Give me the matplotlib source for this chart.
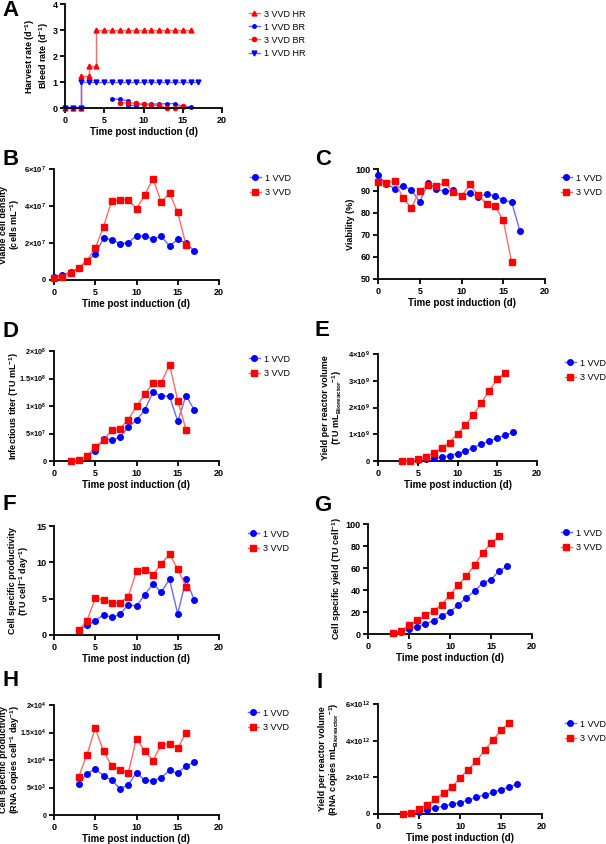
import numpy as np
import matplotlib
matplotlib.use("Agg")
import matplotlib.pyplot as plt

plt.rcParams['font.family'] = ['Liberation Sans', 'DejaVu Sans']
plt.rcParams['font.weight'] = 'bold'
plt.rcParams['mathtext.default'] = 'regular'

W, H = 606, 844

# ---- data ----
# A: harvest / bleed rates
a_x_hr3 = [0, 1, 2, 2, 3, 3, 4, 4, 5, 6, 7, 8, 9, 10, 11, 12, 13, 14, 15, 16]
a_y_hr3 = [0, 0, 0, 1.25, 1.25, 1.6, 1.6, 3, 3, 3, 3, 3, 3, 3, 3, 3, 3, 3, 3, 3]
a_x_hr1 = [0, 1, 2, 2, 3, 4, 5, 6, 7, 8, 9, 10, 11, 12, 13, 14, 15, 16, 17]
a_y_hr1 = [0, 0, 0, 1, 1, 1, 1, 1, 1, 1, 1, 1, 1, 1, 1, 1, 1, 1, 1]
a_x_br1 = [6, 7, 8, 8, 9, 10, 11, 12, 13, 14, 15, 16]
a_y_br1 = [0.35, 0.33, 0.28, 0.1, 0.1, 0.15, 0.15, 0.15, 0.17, 0.17, 0.05, 0.05]
a_x_br3 = [7, 8, 9, 10, 11, 12, 13, 14, 15]
a_y_br3 = [0.2, 0.2, 0.18, 0.15, 0.1, 0.1, 0.0, 0.0, 0.07]

days_b1 = list(range(0, 18))
days_b3 = list(range(0, 17))
vcd_1 = [0.18, 0.27, 0.43, 0.65, 1.03, 1.39, 2.26, 2.17, 1.97, 2.0, 2.4, 2.37, 2.22, 2.37, 1.84, 2.19, 2.0, 1.57]
vcd_3 = [0.13, 0.18, 0.38, 0.65, 1.05, 1.72, 2.87, 4.29, 4.32, 4.34, 3.85, 4.61, 5.48, 4.2, 4.7, 3.65, 1.9]
via_1 = [97.1, 93.2, 91.1, 92.3, 90.5, 85.0, 93.5, 90.9, 89.8, 90.3, 87.6, 89.1, 87.3, 88.6, 87.9, 85.8, 85.0, 71.8]
via_3 = [94.1, 93.6, 94.7, 86.8, 82.3, 90.2, 92.6, 92.1, 93.9, 89.5, 87.6, 93.0, 88.0, 84.2, 83.2, 76.8, 57.6]

days_d1 = list(range(2, 18))
days_d3 = list(range(2, 17))
titer_1 = [0, 0.02, 0.09, 0.18, 0.4, 0.38, 0.43, 0.62, 0.74, 0.93, 1.25, 1.18, 1.18, 0.72, 1.19, 0.93]
titer_3 = [0, 0.02, 0.09, 0.26, 0.38, 0.56, 0.59, 0.75, 1.0, 1.21, 1.42, 1.42, 1.75, 1.1, 0.57]

days_1 = list(range(3, 18))
days_3 = list(range(3, 17))
yield_tu_1 = [0, 0.01, 0.02, 0.06, 0.1, 0.15, 0.2, 0.28, 0.37, 0.5, 0.63, 0.75, 0.86, 0.97, 1.07]
yield_tu_3 = [0, 0.01, 0.06, 0.16, 0.31, 0.49, 0.69, 1.02, 1.34, 1.73, 2.18, 2.63, 3.06, 3.29]
csp_tu_1 = [0.73, 1.33, 1.93, 2.8, 2.43, 2.84, 4.17, 3.99, 5.55, 7.02, 5.92, 7.66, 2.89, 7.66, 4.82]
csp_tu_3 = [0.69, 1.97, 5.05, 4.86, 4.4, 4.45, 5.28, 8.76, 8.99, 8.3, 9.77, 11.15, 9.04, 6.65]
csy_1 = [0.6, 2.1, 4.6, 6.7, 9.1, 12.2, 16.4, 20.4, 26.1, 33.1, 38.9, 46.5, 49.5, 57.4, 61.7]
csy_3 = [0.6, 2.7, 7.9, 12.5, 17.0, 21.3, 26.7, 35.6, 44.4, 52.9, 62.6, 73.9, 82.4, 88.8]
csp_rna_1 = [5.7, 7.5, 8.4, 7.15, 6.3, 4.8, 5.5, 7.7, 6.3, 6.2, 6.8, 8.1, 7.6, 8.9, 9.6]
csp_rna_3 = [6.97, 11.0, 15.76, 11.6, 8.9, 8.24, 7.64, 13.9, 11.6, 9.9, 12.8, 13.0, 12.1, 15.0]
yield_rna_1 = [0.02, 0.05, 0.1, 0.22, 0.33, 0.44, 0.53, 0.62, 0.76, 0.91, 1.04, 1.18, 1.33, 1.47, 1.64]
yield_rna_3 = [0.02, 0.05, 0.25, 0.51, 0.82, 1.15, 1.45, 1.96, 2.42, 2.89, 3.47, 4.02, 4.56, 4.98]

BLUE, RED = '#0000ff', '#ff0000'
BLUE_L, RED_L = '#6b6bff', '#ff6b6b'

fig = plt.figure(figsize=(W / 100, H / 100), dpi=100)


def make_ax(l, r, b, t):
    ax = fig.add_axes([l / W, 1 - b / H, (r - l) / W, (b - t) / H])
    ax.box_px = (l, r, b, t)
    for s in ['top', 'right']:
        ax.spines[s].set_visible(False)
    for s in ['left', 'bottom']:
        ax.spines[s].set_linewidth(1.3)
    ax.tick_params(direction='out', length=3.5, width=1.3, labelsize=6.5, pad=2)
    ax.set_xlim(0, 20)
    ax.set_xticks([0, 5, 10, 15, 20])
    return ax


def place_labels(ax, ylabel, ylab_right):
    l, r, b, t = ax.box_px
    ax.set_ylabel(ylabel, fontsize=6.5, fontweight='bold', linespacing=1.0)
    ax.yaxis.set_label_coords((ylab_right - l) / (r - l), 0.5)
    ax.set_xlabel('Time post induction (d)', fontsize=7, fontweight='bold')
    ax.xaxis.set_label_coords(0.5, -19 / (b - t))
    for lab in ax.get_xticklabels() + ax.get_yticklabels():
        lab.set_fontweight('bold')


def two_series(ax, x1, y1, x3, y3, scale=1.0):
    ax.plot(x1, np.array(y1) * scale, '-o', color=BLUE_L, mfc=BLUE, mec=BLUE,
            ms=4, lw=1, label='1 VVD', clip_on=False, zorder=3)
    ax.plot(x3, np.array(y3) * scale, '-s', color=RED_L, mfc=RED, mec=RED,
            ms=4, lw=1, label='3 VVD', clip_on=False, zorder=3)


def legend(ax, px, py, spacing=0.6):
    ax.legend(loc='upper left', bbox_to_anchor=(px / W, 1 - py / H),
              bbox_transform=fig.transFigure, frameon=False,
              handlelength=1.3, handletextpad=0.45, labelspacing=spacing, borderpad=0,
              prop={'size': 6.5, 'weight': 'normal'})


def finish(ax, ylabel, ylab_right, legpos):
    place_labels(ax, ylabel, ylab_right)
    legend(ax, *legpos)


def sci_labels(ax, ticks, labels, size=5.5):
    ax.set_yticks(ticks)
    ax.set_yticklabels(labels, fontsize=size, fontweight='bold')


# ---- A ----
ax = make_ax(65, 222, 108, 4)
ax.plot(a_x_hr3, a_y_hr3, '-^', color=RED_L, mfc=RED, mec=RED, ms=3.5, lw=1, label='3 VVD HR', clip_on=False)
ax.plot(a_x_br1, a_y_br1, '-o', color=BLUE_L, mfc=BLUE, mec=BLUE, ms=2.5, lw=1, label='1 VVD BR', clip_on=False)
ax.plot(a_x_br3, a_y_br3, '-o', color=RED_L, mfc=RED, mec=RED, ms=3, lw=1, label='3 VVD BR', clip_on=False)
ax.plot(a_x_hr1, a_y_hr1, '-v', color=BLUE_L, mfc=BLUE, mec=BLUE, ms=3.5, lw=1, label='1 VVD HR', clip_on=False)
ax.set_ylim(0, 4)
ax.set_yticks([0, 1, 2, 3, 4])
place_labels(ax, 'Harvest rate (d$^{-1}$)\nBleed rate (d$^{-1}$)', 51)
legend(ax, 244, 5, spacing=0.45)

# ---- B ----
ax = make_ax(54, 219, 280, 169)
two_series(ax, days_b1, vcd_1, days_b3, vcd_3, 1e7)
ax.set_ylim(0, 6e7)
sci_labels(ax, [0, 2e7, 4e7, 6e7], ['0', r'2×10$^{7}$', r'4×10$^{7}$', r'6×10$^{7}$'])
finish(ax, 'Viable cell density\n(cells mL$^{-1}$)', 22, (245, 169))

# ---- C ----
ax = make_ax(378, 545, 279, 169)
two_series(ax, days_b1, via_1, days_b3, via_3)
ax.set_ylim(50, 100)
ax.set_yticks([50, 60, 70, 80, 90, 100])
finish(ax, 'Viability (%)', 355, (556, 169))

# ---- D ----
ax = make_ax(54, 219, 461, 351)
two_series(ax, days_d1, titer_1, days_d3, titer_3, 1e8)
ax.set_ylim(0, 2e8)
sci_labels(ax, [0, 5e7, 1e8, 1.5e8, 2e8],
           ['0', r'5×10$^{7}$', r'1×10$^{8}$', r'1.5×10$^{8}$', r'2×10$^{8}$'], size=5.2)
finish(ax, 'Infectious titer (TU mL$^{-1}$)', 21, (244, 350))

# ---- E ----
ax = make_ax(378, 537, 461, 354)
two_series(ax, days_1, yield_tu_1, days_3, yield_tu_3, 1e9)
ax.set_ylim(0, 4e9)
sci_labels(ax, [0, 1e9, 2e9, 3e9, 4e9],
           ['0', r'1×10$^{9}$', r'2×10$^{9}$', r'3×10$^{9}$', r'4×10$^{9}$'])
finish(ax, 'Yield per reactor volume\n(TU mL$_{Bioreactor}$$^{-1}$)', 344, (560, 354))

# ---- F ----
ax = make_ax(54, 219, 635, 526)
two_series(ax, days_1, csp_tu_1, days_3, csp_tu_3)
ax.set_ylim(0, 15)
ax.set_yticks([0, 5, 10, 15])
finish(ax, 'Cell specific productivity\n(TU cell$^{-1}$ day$^{-1}$)', 31, (243, 525))

# ---- G ----
ax = make_ax(368, 532, 634, 524)
two_series(ax, days_1, csy_1, days_3, csy_3)
ax.set_ylim(0, 100)
ax.set_yticks([0, 20, 40, 60, 80, 100])
finish(ax, 'Cell specific yield (TU cell$^{-1}$)', 344, (556, 524))

# ---- H ----
ax = make_ax(54, 219, 815, 705)
two_series(ax, days_1, csp_rna_1, days_3, csp_rna_3, 1e3)
ax.set_ylim(0, 2e4)
sci_labels(ax, [0, 5e3, 1e4, 1.5e4, 2e4],
           ['0', r'5×10$^{3}$', r'1×10$^{4}$', r'1.5×10$^{4}$', r'2×10$^{4}$'], size=5)
finish(ax, 'Cell specific productivity\n(RNA copies cell$^{-1}$ day$^{-1}$)', 22, (243, 704))

# ---- I ----
ax = make_ax(378, 542, 814, 704)
two_series(ax, days_1, yield_rna_1, days_3, yield_rna_3, 1e12)
ax.set_ylim(0, 6e12)
sci_labels(ax, [0, 2e12, 4e12, 6e12],
           ['0', r'2×10$^{12}$', r'4×10$^{12}$', r'6×10$^{12}$'])
finish(ax, 'Yield per reactor volume\n(RNA copies mL$_{Bioreactor}$$^{-1}$)', 341, (560, 715))

# panel letters
for letter, px, py in [('A', 2, 0), ('B', 2, 149), ('C', 315, 149), ('D', 2, 321),
                       ('E', 314, 320), ('F', 2, 494), ('G', 314, 495),
                       ('H', 2, 670), ('I', 316, 672)]:
    fig.text(px / W, 1 - py / H, letter, fontsize=16, fontweight='bold', va='top', ha='left')

fig.savefig('out.png', dpi=100)
